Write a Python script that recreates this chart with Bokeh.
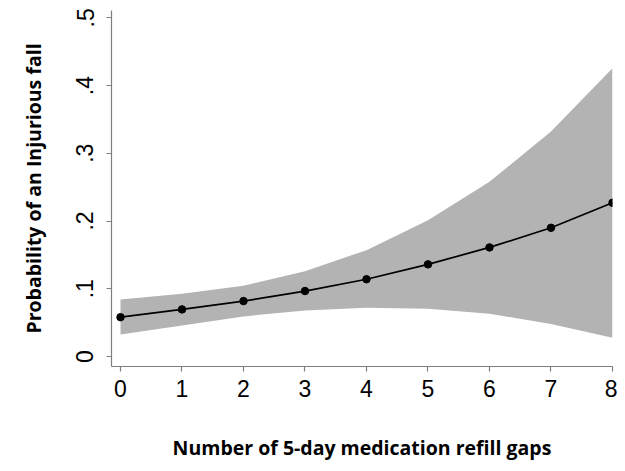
from bokeh.plotting import figure
from bokeh.models import FixedTicker, Range1d
from bokeh.embed import file_html
from bokeh.resources import INLINE

# Data
gaps = [0, 1, 2, 3, 4, 5, 6, 7, 8]
prob = [0.058, 0.0695, 0.0818, 0.0966, 0.114, 0.136, 0.161, 0.190, 0.227]
upper = [0.0843, 0.0927, 0.1046, 0.126, 0.157, 0.201, 0.258, 0.332, 0.4256]
lower = [0.0325, 0.0459, 0.0592, 0.068, 0.072, 0.0705, 0.063, 0.048, 0.0276]

x_ticks = [0, 1, 2, 3, 4, 5, 6, 7, 8]
y_ticks = [0, 0.1, 0.2, 0.3, 0.4, 0.5]
y_tick_labels = ["0", ".1", ".2", ".3", ".4", ".5"]

x_title = "Number of 5-day medication refill gaps"
y_title = "Probability of an Injurious fall"

p = figure(width=617, height=463, output_backend="svg", toolbar_location=None,
           x_range=Range1d(-0.1463, 8.0), y_range=Range1d(-0.0148, 0.5108),
           min_border_left=111, min_border_right=5, min_border_top=10,
           min_border_bottom=97)
p.outline_line_color = None
p.grid.visible = False
p.background_fill_color = "white"
p.border_fill_color = "white"

p.varea(x=gaps, y1=lower, y2=upper, fill_color="#b3b3b3", fill_alpha=1.0)
p.line(x=gaps, y=prob, line_color="black", line_width=1.7)
p.scatter(x=gaps, y=prob, size=7.5, fill_color="black", line_color="black")

axis_color = "#7f7f7f"
for ax in (p.xaxis[0], p.yaxis[0]):
    ax.axis_line_color = axis_color
    ax.axis_line_width = 1.2
    ax.major_tick_line_color = axis_color
    ax.major_tick_line_width = 1.2
    ax.major_tick_out = 5
    ax.major_tick_in = 0
    ax.minor_tick_line_color = None
    ax.major_label_text_font = "Liberation Sans"
    ax.major_label_text_font_size = "23px"
    ax.major_label_text_color = "black"
    ax.axis_label_text_font = "Open Sans"
    ax.axis_label_text_font_style = "bold"
    ax.axis_label_text_font_size = "19.5px"
    ax.axis_label_text_color = "black"

p.xaxis.ticker = FixedTicker(ticks=x_ticks)
p.xaxis.major_label_standoff = 8
p.xaxis.axis_label = x_title
p.xaxis.axis_label_standoff = 34

p.yaxis.ticker = FixedTicker(ticks=y_ticks)
p.yaxis.major_label_overrides = {t: l for t, l in zip(y_ticks, y_tick_labels)}
p.yaxis.major_label_orientation = "vertical"
p.yaxis.major_label_standoff = 13
p.yaxis.axis_label = y_title
p.yaxis.axis_label_standoff = 27

open("out.html", "w").write(file_html(p, INLINE))
